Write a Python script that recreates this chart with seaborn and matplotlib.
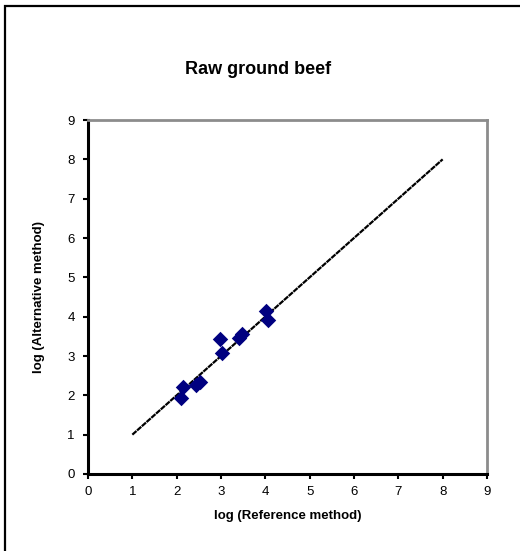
import matplotlib
matplotlib.use("Agg")
import matplotlib.pyplot as plt
from matplotlib.patches import Rectangle
import seaborn as sns
import pandas as pd

# Paired log counts: reference method vs alternative method
log_reference = [2.09, 2.14, 2.43, 2.52, 2.98, 3.03, 3.40, 3.48, 4.02, 4.07]
log_alternative = [1.94, 2.20, 2.27, 2.33, 3.42, 3.08, 3.47, 3.56, 4.15, 3.92]

# Line of identity
identity_x = [1, 8]
identity_y = [1, 8]

ticks = list(range(0, 10))

sns.set_theme(style="white")
plt.rcParams["font.family"] = ["Liberation Sans", "DejaVu Sans"]
plt.rcParams["text.color"] = "black"
plt.rcParams["axes.labelcolor"] = "black"

fig = plt.figure(figsize=(5.2, 5.51), dpi=100)
ax = fig.add_axes([88 / 520, 1 - 474 / 551, (487 - 88) / 520, (474 - 120) / 551])

df = pd.DataFrame({"ref": log_reference, "alt": log_alternative})
line_df = pd.DataFrame({"x": identity_x, "y": identity_y})

sns.lineplot(data=line_df, x="x", y="y", ax=ax, color="black",
             linewidth=1.6, linestyle=(0, (2.5, 0.35)), zorder=2)
sns.scatterplot(data=df, x="ref", y="alt", ax=ax, marker="D", s=62,
                color="#000080", edgecolor="#000080", linewidth=0, zorder=3)

ax.set_xlim(0, 9)
ax.set_ylim(0, 9)
ax.set_xticks(ticks)
ax.set_yticks(ticks)
ax.tick_params(axis="both", which="major", direction="out", length=3.5,
               width=1.5, color="black", labelsize=9.5,
               bottom=True, left=True, labelcolor="black")
ax.tick_params(axis="x", pad=5)
ax.tick_params(axis="y", pad=6)

for side in ("left", "bottom"):
    ax.spines[side].set_color("black")
    ax.spines[side].set_linewidth(2.2)
for side in ("top", "right"):
    ax.spines[side].set_color("#8c8c8c")
    ax.spines[side].set_linewidth(2.0)

ax.set_xlabel("log (Reference method)", fontsize=9.5, fontweight="bold",
              labelpad=9, color="black")
ax.set_ylabel("log (Alternative method)", fontsize=9.5, fontweight="bold",
              labelpad=16, color="black")

fig.text(258 / 520, 1 - 70 / 551, "Raw ground beef", ha="center",
         va="center", fontsize=13, fontweight="bold", color="black")

# Chart-area border
fig.patches.append(Rectangle((5 / 520, -0.1), 1.2, 1 - 6 / 551 + 0.1,
                             transform=fig.transFigure, fill=False,
                             edgecolor="black", linewidth=1.6, zorder=0))

fig.savefig("out.png", dpi=100, facecolor="white")
